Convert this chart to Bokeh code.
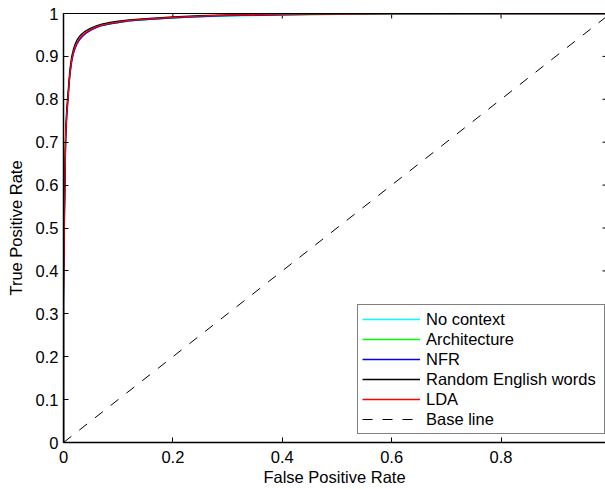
import math

from bokeh.plotting import figure
from bokeh.models import (Range1d, FixedTicker, CustomJSTickFormatter, LinearAxis,
                          Legend, LegendItem)
from bokeh.embed import file_html
from bokeh.resources import INLINE

# ROC curves: false positive rate grid and true positive rate per context
fpr = [0.0, 0.0, 0.001, 0.002, 0.003, 0.004, 0.006, 0.008, 0.010, 0.012, 0.015,
       0.018, 0.021, 0.025, 0.030, 0.035, 0.040, 0.050, 0.060, 0.070, 0.085,
       0.100, 0.120, 0.150, 0.200, 0.250, 0.300, 0.400, 0.500, 0.600, 0.800, 1.000]

tpr_no_context = [0.0, 0.34, 0.46, 0.56, 0.64, 0.71, 0.765, 0.80, 0.833, 0.862, 0.890,
                  0.908, 0.920, 0.931, 0.941, 0.948, 0.954, 0.962, 0.968, 0.972, 0.976,
                  0.979, 0.983, 0.986, 0.990, 0.992, 0.994, 0.996, 0.998, 0.999, 1.0, 1.0]
tpr_architecture = [0.0, 0.34, 0.46, 0.57, 0.65, 0.715, 0.768, 0.80, 0.835, 0.864, 0.892,
                    0.909, 0.921, 0.932, 0.942, 0.949, 0.954, 0.962, 0.968, 0.972, 0.976,
                    0.979, 0.983, 0.986, 0.990, 0.993, 0.995, 0.997, 0.998, 0.999, 1.0, 1.0]
tpr_nfr = [0.0, 0.32, 0.44, 0.55, 0.63, 0.705, 0.76, 0.795, 0.830, 0.860, 0.888,
           0.906, 0.918, 0.930, 0.940, 0.947, 0.953, 0.961, 0.967, 0.972, 0.976,
           0.979, 0.983, 0.986, 0.990, 0.993, 0.995, 0.997, 0.999, 1.0, 1.0, 1.0]
tpr_random_words = [0.0, 0.36, 0.48, 0.58, 0.66, 0.73, 0.78, 0.81, 0.845, 0.873, 0.900,
                    0.916, 0.928, 0.939, 0.948, 0.954, 0.959, 0.966, 0.971, 0.975, 0.979,
                    0.982, 0.985, 0.988, 0.992, 0.995, 0.997, 0.998, 0.999, 1.0, 1.0, 1.0]
tpr_lda = [0.0, 0.33, 0.45, 0.56, 0.64, 0.72, 0.77, 0.80, 0.835, 0.865, 0.893,
           0.910, 0.922, 0.933, 0.943, 0.950, 0.955, 0.963, 0.969, 0.973, 0.977,
           0.980, 0.984, 0.987, 0.991, 0.994, 0.996, 0.998, 0.999, 1.0, 1.0, 1.0]

baseline_x = [0.0, 1.0]
baseline_y = [0.0, 1.0]

series_names = ["No context", "Architecture", "NFR", "Random English words", "LDA"]
series_values = [tpr_no_context, tpr_architecture, tpr_nfr, tpr_random_words, tpr_lda]
series_colors = ["#00ffff", "#00ff00", "#0000ff", "#000000", "#ff0000"]

x_ticks = [0.0, 0.2, 0.4, 0.6, 0.8]
y_ticks = [0.0, 0.1, 0.2, 0.3, 0.4, 0.5, 0.6, 0.7, 0.8, 0.9, 1.0]

X_END = 0.991
FONT = "Liberation Sans"
FONT_SIZE = "16.5px"

p = figure(width=605, height=489, output_backend="svg", toolbar_location=None,
           x_range=Range1d(0, X_END), y_range=Range1d(0, 1),
           x_axis_label="False Positive Rate", y_axis_label="True Positive Rate")
p.min_border_left = 63
p.min_border_right = 0
p.min_border_top = 13
p.min_border_bottom = 47
p.outline_line_color = None
p.background_fill_color = "white"
p.border_fill_color = "white"
p.xgrid.visible = False
p.ygrid.visible = False

fmt = CustomJSTickFormatter(code="return String(Math.round(tick * 10) / 10);")

for ax, ticks in ((p.xaxis[0], x_ticks), (p.yaxis[0], y_ticks)):
    ax.ticker = FixedTicker(ticks=ticks)
    ax.formatter = fmt
    ax.axis_line_color = "black"
    ax.axis_line_width = 1.5
    ax.major_tick_in = 5
    ax.major_tick_out = 0
    ax.major_tick_line_color = "black"
    ax.minor_tick_line_color = None
    ax.major_label_text_font = FONT
    ax.major_label_text_font_size = FONT_SIZE
    ax.major_label_text_color = "black"
    ax.axis_label_text_font = FONT
    ax.axis_label_text_font_size = FONT_SIZE
    ax.axis_label_text_font_style = "normal"
    ax.axis_label_text_color = "black"

p.xaxis[0].major_label_standoff = 8
p.xaxis[0].axis_label_standoff = 2
p.yaxis[0].major_label_standoff = 5
p.yaxis[0].axis_label_standoff = 8

# top edge of the box (line only)
top_axis = LinearAxis(ticker=FixedTicker(ticks=[]), major_tick_in=0, major_tick_out=0,
                      minor_tick_line_color=None, major_label_standoff=0,
                      axis_line_color="black", axis_line_width=1)
p.add_layout(top_axis, "above")

# inward ticks along the top and right edges of the box
p.scatter(x=x_ticks, y=[1.0] * len(x_ticks), marker="dash", angle=math.pi / 2,
          size=10, line_color="black", line_width=1)
p.scatter(x=[X_END] * len(y_ticks), y=y_ticks, marker="dash", size=6,
          line_color="black", line_width=1)

renderers = []
for name, vals, col in zip(series_names, series_values, series_colors):
    r = p.line(fpr, vals, line_color=col, line_width=1.3)
    renderers.append((name, r))

base = p.line(baseline_x, baseline_y, line_color="black", line_width=1,
              line_dash="10 10")
renderers.append(("Base line", base))

legend = Legend(items=[LegendItem(label=n, renderers=[r]) for n, r in renderers],
                location=(294, 8))
legend.label_text_font = FONT
legend.label_text_font_size = FONT_SIZE
legend.label_text_color = "black"
legend.glyph_width = 58
legend.glyph_height = 20
legend.label_height = 20
legend.label_width = 174
legend.label_standoff = 6
legend.padding = 4
legend.spacing = 0
legend.margin = 0
legend.border_line_color = "black"
legend.border_line_width = 1
legend.background_fill_color = "white"
legend.background_fill_alpha = 1.0
p.add_layout(legend, "center")

open("out.html", "w").write(file_html(p, INLINE))
